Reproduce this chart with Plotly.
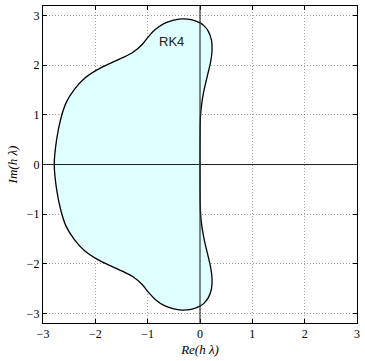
import plotly.graph_objects as go

# Boundary of the RK4 stability region (counter-clockwise)
re_upper = [0.0, 0.001, 0.01, 0.035, 0.08, 0.14, 0.2, 0.23, 0.22, 0.16, 0.07, 0.0,
            -0.15, -0.35, -0.52, -0.68, -0.85, -0.98, -1.1, -1.28, -1.5, -1.75, -1.96,
            -2.2, -2.4, -2.56, -2.66, -2.74, -2.785]
im_upper = [0.0, 0.5, 0.97, 1.24, 1.51, 1.78, 2.05, 2.3, 2.5, 2.68, 2.8, 2.85,
            2.91, 2.93, 2.9, 2.84, 2.72, 2.58, 2.42, 2.26, 2.14, 2.02, 1.91,
            1.74, 1.51, 1.24, 0.92, 0.5, 0.0]
re_lower = [-2.74, -2.66, -2.56, -2.4, -2.2, -1.96, -1.75, -1.5, -1.28, -1.1, -0.98,
            -0.85, -0.68, -0.52, -0.35, -0.15, 0.0, 0.07, 0.16, 0.22, 0.23, 0.2, 0.14,
            0.08, 0.035, 0.01, 0.001, 0.0]
im_lower = [-0.5, -0.92, -1.24, -1.51, -1.74, -1.91, -2.02, -2.14, -2.26, -2.42, -2.58,
            -2.72, -2.84, -2.9, -2.93, -2.91, -2.85, -2.8, -2.68, -2.5, -2.3, -2.05, -1.78,
            -1.51, -1.24, -0.97, -0.5, 0.0]

re_vals = re_upper + re_lower
im_vals = im_upper + im_lower

tick_vals = [-3, -2, -1, 0, 1, 2, 3]
tick_text = ["\u22123", "\u22122", "\u22121", "0", "1", "2", "3"]
label_text = "RK4"

fig = go.Figure()
fig.add_trace(go.Scatter(
    x=re_vals, y=im_vals, mode="lines", fill="toself",
    fillcolor="#e0ffff", line=dict(color="black", width=1.3, shape="spline", smoothing=0.8),
    hoverinfo="skip", showlegend=False))

fig.add_annotation(x=-0.55, y=2.47, text=label_text, showarrow=False,
                   font=dict(family="Liberation Sans, Arial", size=13, color="#222"))

fig.add_shape(type="line", x0=-3, x1=3, y0=0, y1=0, xref="x", yref="y",
              line=dict(color="#222", width=1.2), layer="above")
fig.add_shape(type="line", x0=0, x1=0, y0=-3.2, y1=3.2, xref="x", yref="y",
              line=dict(color="#333", width=1.2), layer="above")

axis_common = dict(
    showgrid=True, gridcolor="#a0a0a0", griddash="1px,2px", gridwidth=1,
    zeroline=False, showline=True, linecolor="black", linewidth=1, mirror="ticks",
    ticks="inside", ticklen=4, tickcolor="black",
    tickvals=tick_vals, ticktext=tick_text,
    tickfont=dict(family="Liberation Serif, Times New Roman", size=12, color="black"),
)

fig.update_xaxes(range=[-3, 3], **axis_common,
                 title=dict(text="<i>Re(h \u03bb)</i>", standoff=4,
                            font=dict(family="Liberation Serif, Times New Roman", size=13, color="black")))
fig.update_yaxes(range=[-3.19, 3.19], **axis_common,
                 title=dict(text="<i>Im(h \u03bb)</i>", standoff=6,
                            font=dict(family="Liberation Serif, Times New Roman", size=13, color="black")))

fig.update_layout(width=365, height=361, margin=dict(l=43, r=5, t=6, b=38),
                  plot_bgcolor="white", paper_bgcolor="white")

fig.write_html("out.html")
